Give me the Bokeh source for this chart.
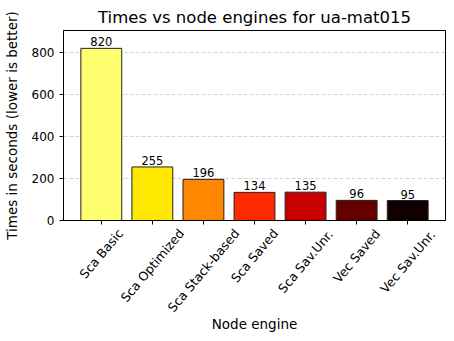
import math
from bokeh.plotting import figure
from bokeh.models import (ColumnDataSource, Range1d, Title, FactorRange,
                          CustomLabelingPolicy)
from bokeh.core.properties import value
from bokeh.embed import file_html
from bokeh.resources import INLINE

engines = ["Sca Basic", "Sca Optimized", "Sca Stack-based", "Sca Saved",
           "Sca Sav.Unr.", "Vec Saved", "Vec Sav.Unr."]
times = [820, 255, 196, 134, 135, 96, 95]
colors = ["#ffff70", "#ffe800", "#ff8800", "#ff2a00", "#c80000", "#650000", "#100000"]
labels = [str(t) for t in times]

FONT = "DejaVu Sans"
TICK_PX = 12.5
ANG = math.radians(50)

# DejaVu Sans advance widths (1/2048 em), used to centre rotated tick labels
ADV = {"S": 1300, "c": 1126, "a": 1255, " ": 651, "B": 1405, "s": 1067, "i": 569,
       "O": 1612, "p": 1300, "t": 803, "m": 1995, "z": 1075, "e": 1260, "d": 1300,
       "k": 1186, "-": 739, "b": 1300, "v": 1212, "V": 1401, ".": 651, "U": 1499,
       "n": 1298, "r": 842}


def text_len(s, px):
    return sum(ADV.get(ch, 1200) for ch in s) / 2048.0 * px


tick_off = [7.5 + (text_len(n, TICK_PX) * math.sin(ANG) + 9 * math.cos(ANG)) / 2
            for n in engines]

src = ColumnDataSource(dict(x=engines, top=times, color=colors, label=labels,
                            zero=[0] * len(engines), toff=tick_off))

p = figure(frame_width=382, frame_height=190, output_backend="svg", toolbar_location=None,
           x_range=FactorRange(factors=engines, range_padding=0.24,
                               range_padding_units="absolute"),
           y_range=Range1d(0, 905),
           min_border_left=52, min_border_right=4, min_border_top=30, min_border_bottom=100)
p.add_layout(Title(text="Times vs node engines for ua-mat015", align="center",
                   text_font=FONT, text_font_size="16.5px", text_font_style="normal",
                   text_color="black", standoff=7), "above")

p.vbar(x="x", top="top", width=0.8, fill_color="color", line_color="#222222",
       line_width=1, source=src)
p.text(x="x", y="top", text="label", source=src, text_align="center",
       text_baseline="bottom", y_offset=-2, text_font_size=value("11.5px"),
       text_font=value(FONT), text_color="black")

# rotated category labels, centred under each tick (matplotlib style)
p.text(x="x", y="zero", text="x", source=src, y_offset="toff", angle=ANG,
       text_align="center", text_baseline="middle", text_font=value(FONT),
       text_font_size=value(f"{TICK_PX}px"), text_color="black", level="overlay")

p.outline_line_color = "black"
p.xgrid.grid_line_color = None
p.ygrid.grid_line_color = "#cccccc"
p.ygrid.grid_line_dash = "4 2"
p.ygrid.grid_line_width = 0.8

p.yaxis.ticker = [0, 200, 400, 600, 800]
p.yaxis.axis_label = "Times in seconds (lower is better)"
p.xaxis.axis_label = "Node engine"
for ax in (p.xaxis[0], p.yaxis[0]):
    ax.axis_label_text_font = FONT
    ax.axis_label_text_font_style = "normal"
    ax.axis_label_text_font_size = "13.5px"
    ax.axis_label_text_color = "black"
    ax.major_label_text_font = FONT
    ax.major_label_text_font_size = "12px"
    ax.major_label_text_color = "black"
    ax.axis_line_color = "black"
    ax.major_tick_line_color = "black"
    ax.minor_tick_line_color = None
    ax.major_tick_out = 4
    ax.major_tick_in = 0
p.xaxis.major_label_policy = CustomLabelingPolicy(code="return new Set()")
p.xaxis.major_label_text_font_size = "1px"
p.xaxis.major_label_standoff = 0
p.xaxis.axis_label_standoff = 87
p.yaxis.axis_label_standoff = 9

open("out.html", "w").write(file_html(p, INLINE))
